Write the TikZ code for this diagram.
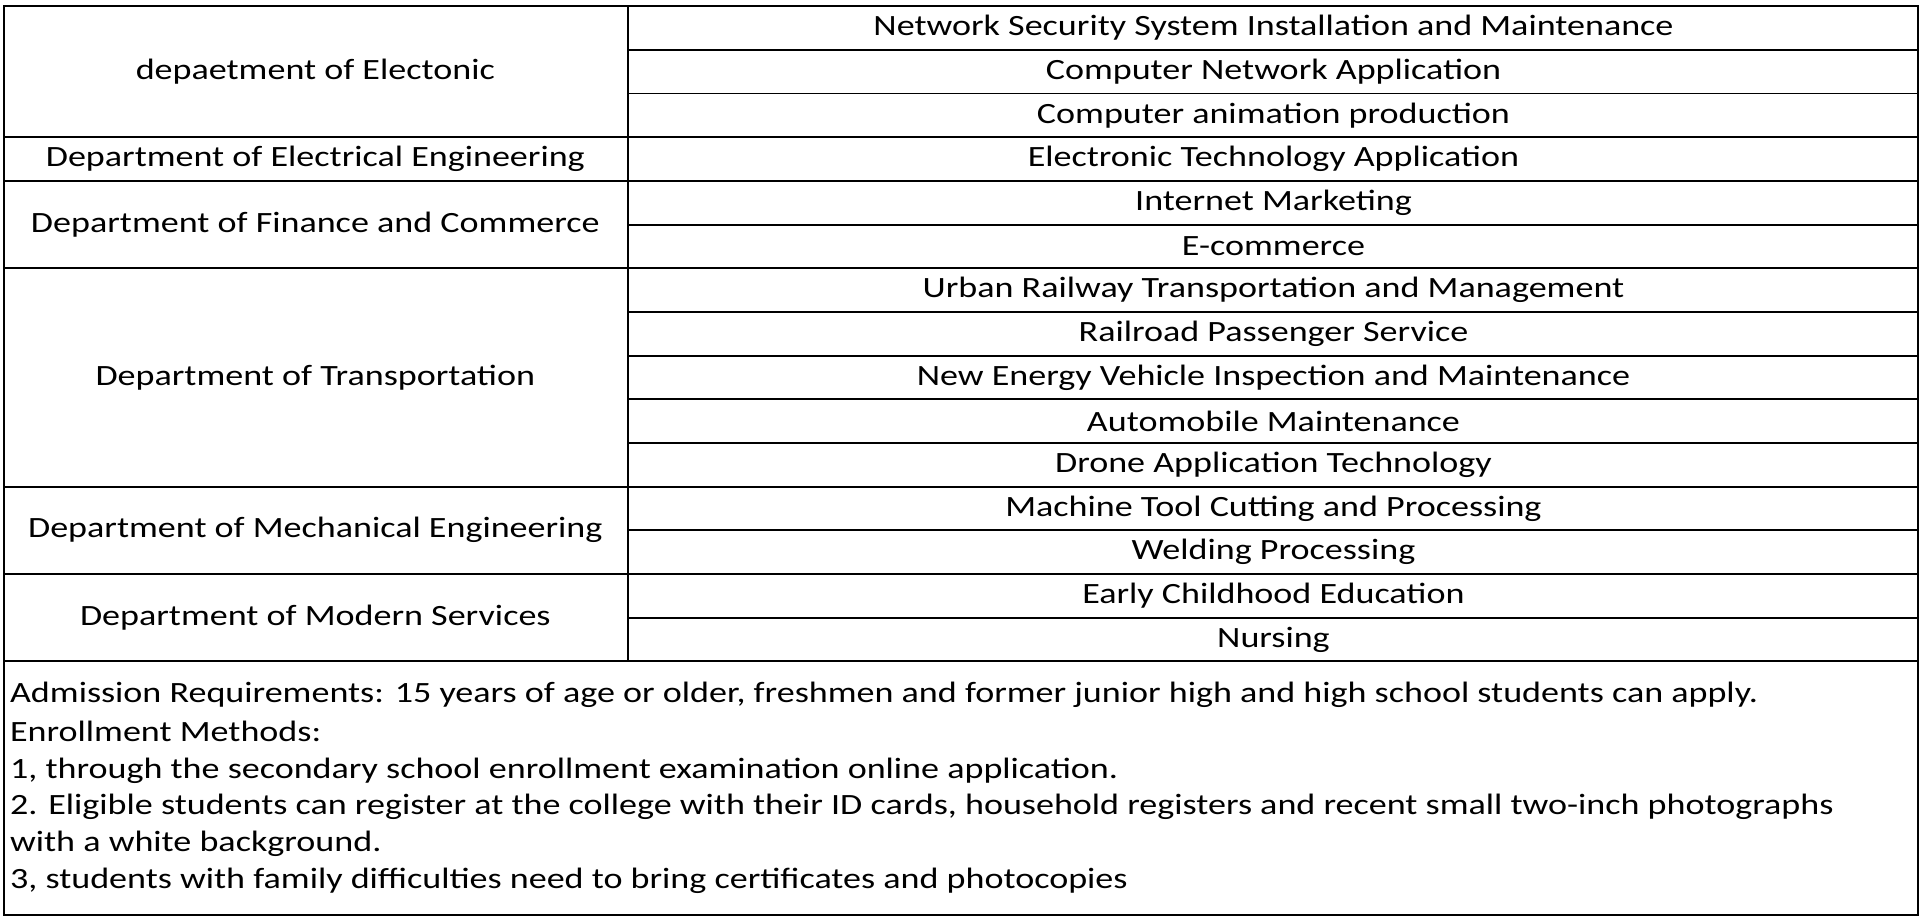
\documentclass[tikz,border=0pt]{standalone}
\usepackage{fontspec}
\setmainfont{Carlito}
\begin{document}
\begin{tikzpicture}[x=1pt,y=-1pt,
  cell/.style={font=\fontsize{24}{28}\selectfont, anchor=center, inner sep=0pt, transform shape, xscale=1.225},
  note/.style={font=\fontsize{24}{28}\selectfont, anchor=west, inner sep=0pt, transform shape, xscale=1.225},
  rule/.style={line width=1.6pt}]
\useasboundingbox (0,0) rectangle (1565,748);
\fill[white] (0,0) rectangle (1565,748);
\def\rh{35.6}
% frame
\draw[rule] (3,5) rectangle (1563,746);
\draw[rule] (512,5) -- (512,539);
\draw[rule] (3,539) -- (1563,539);
\foreach \i in {1,...,14} \draw[rule] (512,5+\i*\rh) -- (1563,5+\i*\rh);
\foreach \i in {3,4,6,11,13} \draw[rule] (3,5+\i*\rh) -- (512,5+\i*\rh);
% left
\node[cell] (d1) at (257,5+1.5*\rh) {depaetment of Electonic};
\node[cell] (d2) at (257,5+3.5*\rh) {Department of Electrical Engineering};
\node[cell] (d3) at (257,5+5*\rh) {Department of Finance and Commerce};
\node[cell] (d4) at (257,5+8.5*\rh) {Department of Transportation};
\node[cell] (d5) at (257,5+12*\rh) {Department of Mechanical Engineering};
\node[cell] (d6) at (257,5+14*\rh) {Department of Modern Services};
% right
\foreach \t [count=\i from 0] in {Network Security System Installation and Maintenance,Computer Network Application,Computer animation production,Electronic Technology Application,Internet Marketing,E-commerce,Urban Railway Transportation and Management,Railroad Passenger Service,New Energy Vehicle Inspection and Maintenance,Automobile Maintenance,Drone Application Technology,Machine Tool Cutting and Processing,Welding Processing,Early Childhood Education,Nursing}
  \node[cell] (m\i) at (1038,5+\i*\rh+0.5*\rh) {\t};
% notes
\node[note] (n1) at (8,566) {Admission Requirements: 15 years of age or older, freshmen and former junior high and high school students can apply.};
\node[note] (n2) at (8,596) {Enrollment Methods:};
\node[note] (n3) at (8,628) {1, through the secondary school enrollment examination online application.};
\node[note] (n4) at (8,658) {2. Eligible students can register at the college with their ID cards, household registers and recent small two-inch photographs};
\node[note] (n5) at (8,688) {with a white background.};
\node[note] (n6) at (8,718) {3, students with family difficulties need to bring certificates and photocopies};
\end{tikzpicture}
\end{document}
